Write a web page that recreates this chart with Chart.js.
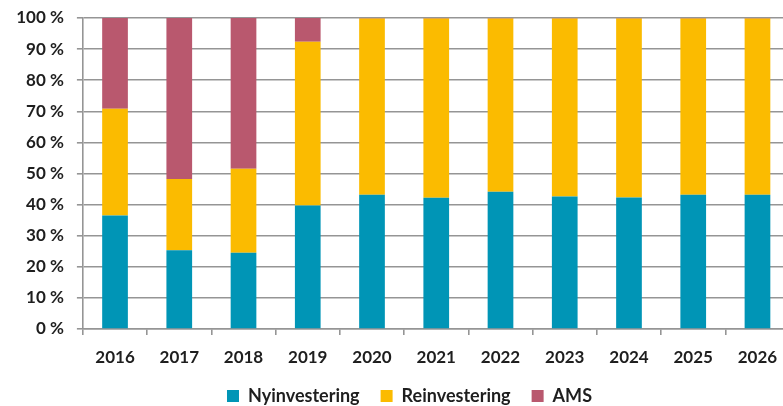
<!DOCTYPE html>
<html>
<head>
<meta charset="utf-8">
<script src="https://cdn.jsdelivr.net/npm/chart.js@4"></script>
<style>
  html, body { margin: 0; padding: 0; background: #ffffff; overflow: hidden; }
  #wrap { width: 783px; height: 406px; overflow: hidden; }
</style>
</head>
<body>
<div id="wrap"><canvas id="c" width="790" height="406"></canvas></div>
<script>
const years = ['2016','2017','2018','2019','2020','2021','2022','2023','2024','2025','2026'];
const nyinvestering = [36.5, 25.3, 24.5, 39.7, 43.2, 42.2, 44.1, 42.6, 42.3, 43.2, 43.2];
const reinvestering = [34.3, 22.9, 27.0, 52.7, 56.6, 57.6, 55.7, 57.2, 57.5, 56.6, 56.6];
const ams = [29.2, 51.8, 48.5, 7.6, 0.2, 0.2, 0.2, 0.2, 0.2, 0.2, 0.2];
const yTicks = [0, 10, 20, 30, 40, 50, 60, 70, 80, 90, 100];

const gridColor = '#959595';
const textColor = '#1e1e1e';
const fontFamily = 'Lato, "Open Sans", sans-serif';

const legendShift = {
  id: 'legendShift',
  afterLayout(chart) {
    if (chart.legend) { chart.legend.left += 9.7; chart.legend.right += 9.7; }
  }
};

new Chart(document.getElementById('c'), {
  type: 'bar',
  data: {
    labels: years,
    datasets: [
      { label: 'Nyinvestering', data: nyinvestering, backgroundColor: '#0095B6' },
      { label: 'Reinvestering', data: reinvestering, backgroundColor: '#FBBB00' },
      { label: 'AMS', data: ams, backgroundColor: '#B9586E' }
    ]
  },
  plugins: [legendShift],
  options: {
    responsive: false,
    animation: false,
    devicePixelRatio: 1,
    layout: { padding: { left: 10, right: 0.4, top: 18, bottom: -9 } },
    datasets: { bar: { categoryPercentage: 1, barPercentage: 0.4 } },
    plugins: {
      legend: {
        position: 'bottom',
        labels: {
          boxWidth: 12, boxHeight: 12, padding: 21,
          color: textColor,
          font: { family: fontFamily, size: 18, weight: 'bold' }
        }
      },
      tooltip: { enabled: false }
    },
    scales: {
      x: {
        stacked: true,
        offset: true,
        grid: { offset: true, drawOnChartArea: false, drawTicks: true, tickLength: 6, color: gridColor, lineWidth: 1.6 },
        border: { display: true, color: gridColor, width: 1.6 },
        ticks: { color: textColor, padding: 12, font: { family: fontFamily, size: 17, weight: 'bold' }, maxRotation: 0 },
        afterFit: (s) => { s.height = 37; }
      },
      y: {
        stacked: true,
        min: 0, max: 100,
        afterBuildTicks: (s) => { s.ticks = yTicks.map(v => ({ value: v })); },
        grid: { drawTicks: true, tickLength: 6, color: gridColor, lineWidth: 1.6 },
        border: { display: true, color: gridColor, width: 1.6 },
        ticks: { color: textColor, padding: 13, font: { family: fontFamily, size: 17, weight: 'bold', lineHeight: 0.5 }, callback: (v) => v + ' %' },
        afterFit: (s) => { s.width = 72.9; }
      }
    }
  }
});
</script>
</body>
</html>
